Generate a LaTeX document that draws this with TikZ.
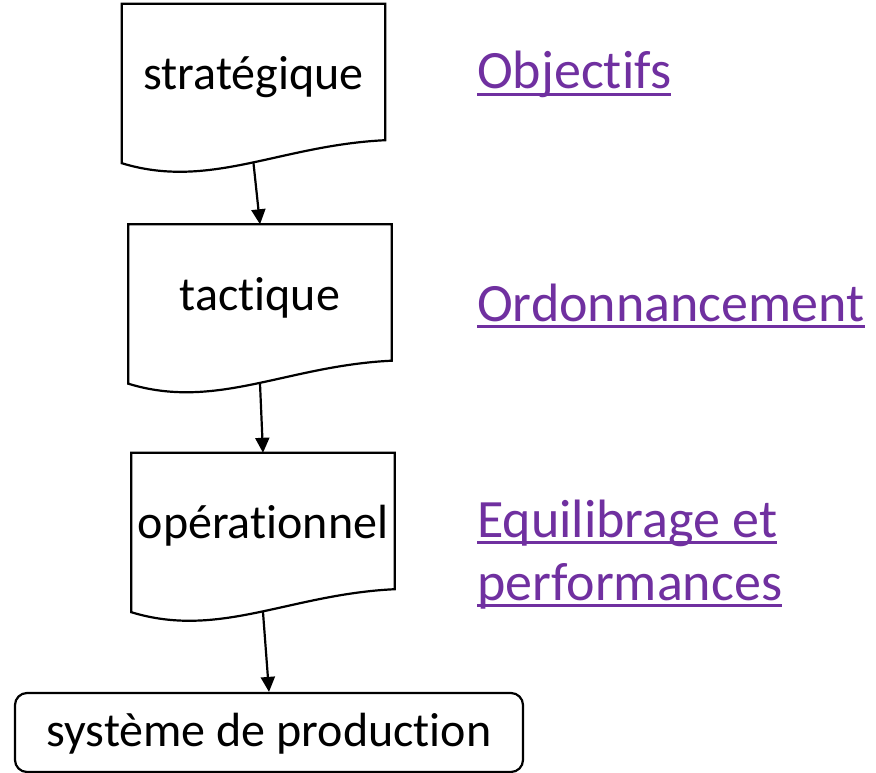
\documentclass[tikz,border=0pt]{standalone}
\usepackage{fontspec}
\setmainfont{Carlito}[Ligatures={NoCommon}]
\usepackage{tikz}
\usetikzlibrary{arrows.meta,calc}

\definecolor{lienviolet}{RGB}{112,48,160}
% souligne a la maniere d'un lien
\newcommand\lien[1]{\setbox0\hbox{#1}\rlap{\rule[-0.125em]{\wd0}{0.05em}}\box0}

\begin{document}
\begin{tikzpicture}[
    x=1pt, y=-1pt,
    docbox/.style={minimum width=263pt, minimum height=159pt, inner sep=0pt,
                   font=\fontsize{48}{58}\selectfont, text height=32pt, text depth=20pt},
    prodbox/.style={draw, line width=2.2pt, rounded corners=12pt, minimum width=508pt,
                    minimum height=79pt, inner sep=0pt, font=\fontsize{48}{58}\selectfont,
                    text height=35pt, text depth=8pt},
    outline/.style={line width=2.2pt, line join=miter},
    arrow/.style={-{Triangle[length=15pt, width=14pt]}, line width=2.2pt},
    lbl/.style={anchor=base west, inner sep=0pt, text=lienviolet, align=left,
                font=\fontsize{54}{63}\selectfont},
  ]
  \fill[white] (0,0) rectangle (876,773);
  \useasboundingbox (0,0) rectangle (876,773);

  % niveaux de decision
  \node[docbox] (strat) at (253.5,83.5) {stratégique};
  \node[docbox] (tact) at (260,304) {tactique};
  \node[docbox] (oper) at (263,532.5) {opérationnel};
  \node[prodbox] (prod) at (269,732.5) {système de production};

  \foreach \n in {strat,tact,oper}
    \draw[outline] (\n.south west) -- (\n.north west) -- (\n.north east)
      -- ([yshift=23pt]\n.south east)
      .. controls ($(\n.south west)+(158,-18)$) and ($(\n.south west)+(88,27)$) .. (\n.south west)
      -- cycle;

  \draw[arrow] (strat.south) -- (tact.north);
  \draw[arrow] (tact.south) -- (oper.north);
  \draw[arrow] (oper.south) -- (prod.north);

  % liens
  \node[lbl] (obj) at (477,89) {\lien{Objectifs}};
  \node[lbl] (ordo) at (477,321) {\lien{Ordonnancement}};
  \node[lbl] (equi) at (477,600) {\lien{Equilibrage et}\\\lien{performances}};
\end{tikzpicture}
\end{document}
